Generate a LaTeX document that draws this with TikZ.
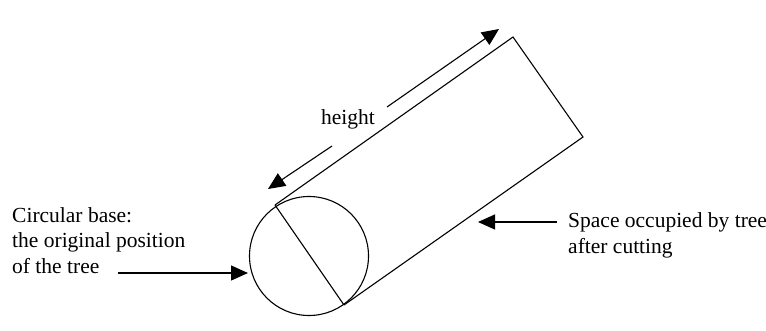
\documentclass[tikz,border=0pt]{standalone}
\usepackage{fontspec}
\setmainfont{Liberation Serif}
\usetikzlibrary{arrows.meta}
\begin{document}
\begin{tikzpicture}[x=1pt,y=-1pt,
  line/.style={line width=1.1pt,draw=black},
  arr/.style={line width=1.1pt,-{Triangle[length=17pt,width=15pt]}},
  lbl/.style={font=\fontsize{21.5}{25}\selectfont,inner sep=0pt,anchor=base west}]
\useasboundingbox[fill=white] (0,0) rectangle (766,330);
% circular base
\node[circle,line,minimum size=119pt,inner sep=0pt] (base) at (309,256) {};
% rectangle (tree after cutting)
\coordinate (A) at (275,205);
\coordinate (B) at (513,37);
\coordinate (C) at (583,137);
\coordinate (D) at (344,305);
\draw[line,line join=miter] (A) -- (B) -- (C) -- (D);
\draw[line] (A) -- (D);
% height arrow
\node[font=\fontsize{21.5}{25}\selectfont,inner sep=0pt] (h) at (348,119) {height};
\coordinate (h1) at (332,146);
\coordinate (h1t) at (268,189);
\coordinate (h2) at (387,107);
\coordinate (h2t) at (499,29);
\draw[arr] (h1) -- (h1t);
\draw[arr] (h2) -- (h2t);
% left label
\node[lbl] (l1) at (12,222) {Circular base:};
\node[lbl] (l2) at (12,247.5) {the original position};
\node[lbl] (l3) at (12,273) {of the tree};
\coordinate (la) at (118,273);
\coordinate (lt) at (248,273);
\draw[arr] (la) -- (lt);
% right label
\node[lbl] (r1) at (568,227) {Space occupied by tree};
\node[lbl] (r2) at (568,253) {after cutting};
\coordinate (ra) at (557,222);
\coordinate (rt) at (478,222);
\draw[arr] (ra) -- (rt);
\end{tikzpicture}
\end{document}
